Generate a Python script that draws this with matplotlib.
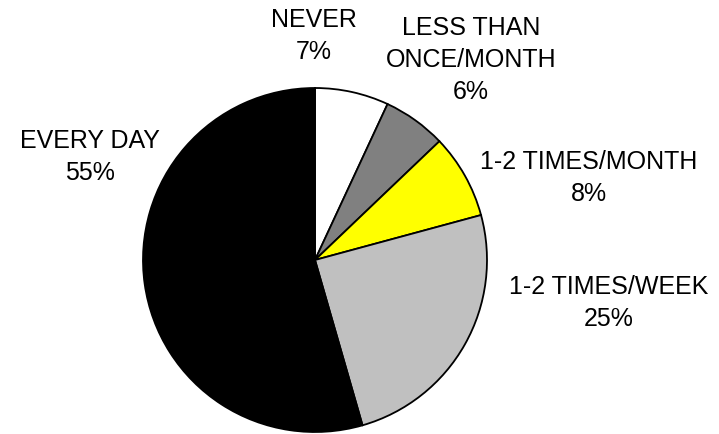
import matplotlib
matplotlib.use("Agg")
import matplotlib.pyplot as plt

categories = ["NEVER", "LESS THAN\nONCE/MONTH", "1-2 TIMES/MONTH", "1-2 TIMES/WEEK", "EVERY DAY"]
values = [7, 6, 8, 25, 55]
colors = ["#ffffff", "#808080", "#ffff00", "#c0c0c0", "#000000"]

# label anchor positions in pixel coordinates (x, y from top)
label_pos = [(314, 36), (471, 60), (589, 178), (609, 303), (90, 157)]

plt.rcParams['font.family'] = ['Liberation Sans', 'DejaVu Sans']

W, H = 719, 435
fig = plt.figure(figsize=(W / 100, H / 100), dpi=100)
ax = fig.add_axes([0, 0, 1, 1])

cx, cy, r = 315, H - 261, 172
ax.pie(values, colors=colors, startangle=90, counterclock=False,
       center=(cx, cy), radius=r, frame=True,
       wedgeprops=dict(edgecolor='black', linewidth=1.3))
ax.set_xlim(0, W)
ax.set_ylim(0, H)
ax.set_aspect('equal')
ax.axis('off')

for cat, v, (x, y) in zip(categories, values, label_pos):
    ax.text(x, H - y, f"{cat}\n{v}%", ha='center', va='center',
            fontsize=18, linespacing=1.42, color='black')

fig.savefig("out.png", dpi=100)
